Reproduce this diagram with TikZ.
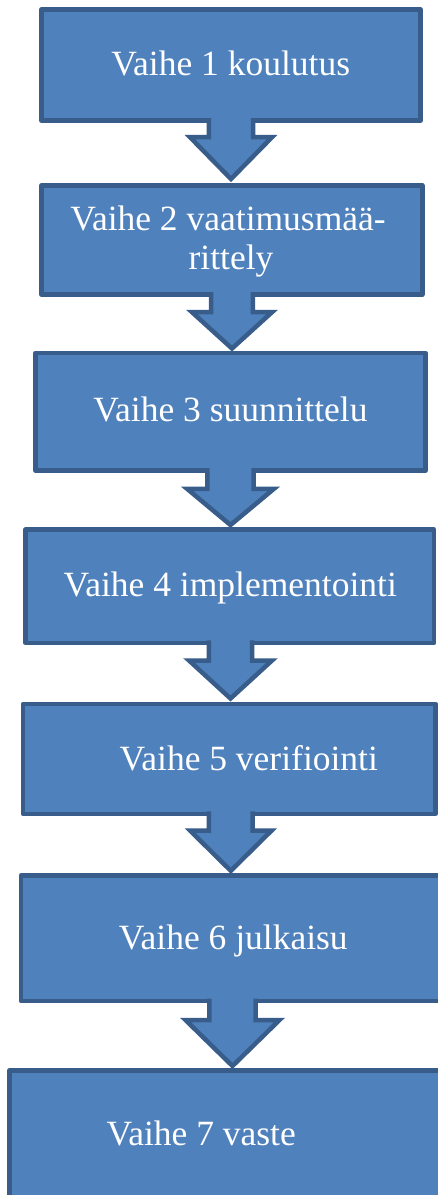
\documentclass[tikz,border=0pt]{standalone}
\usepackage{fontspec}
\setmainfont{Liberation Serif}
\usetikzlibrary{calc}
\definecolor{boxfill}{HTML}{4F81BD}
\definecolor{boxline}{HTML}{385D8A}
\tikzset{
  stage/.style={draw=boxline, fill=boxfill, line width=4.5pt, line join=round, inner sep=0pt, outer sep=0pt},
  stagetext/.style={text=white, font=\fontsize{35.5}{40}\selectfont, anchor=base, inner sep=0pt},
  arrowedge/.style={draw=boxline, line width=4.5pt, line join=miter},
}
% #1 from box, #2 to box, #3 centre x, #4 shaft half width, #5 head half width, #6 head length, #7 gap of tip above next box
\newcommand\stagearrow[7]{%
  \fill[boxfill] let \p1=(#1.south), \p2=(#2.north) in
    (#3pt-#4pt,\y1+2.5pt) -- (#3pt-#4pt,\y2+#7pt+#6pt) -- (#3pt-#5pt,\y2+#7pt+#6pt) -- (#3pt,\y2+#7pt)
    -- (#3pt+#5pt,\y2+#7pt+#6pt) -- (#3pt+#4pt,\y2+#7pt+#6pt) -- (#3pt+#4pt,\y1+2.5pt) -- cycle;
  \draw[arrowedge] let \p1=(#1.south), \p2=(#2.north) in
    (#3pt-#4pt,\y1+2.5pt) -- (#3pt-#4pt,\y2+#7pt+#6pt) -- (#3pt-#5pt,\y2+#7pt+#6pt) -- (#3pt,\y2+#7pt)
    -- (#3pt+#5pt,\y2+#7pt+#6pt) -- (#3pt+#4pt,\y2+#7pt+#6pt) -- (#3pt+#4pt,\y1+2.5pt);
}
\begin{document}
\begin{tikzpicture}[x=1pt,y=1pt]
\useasboundingbox (0,0) rectangle (438,-1195);
\clip (0,0) rectangle (438,-1195);
\fill[white] (0,0) rectangle (438,-1195);
% boxes
\node[stage, minimum width=379pt, minimum height=111pt] (b1) at (231,-65) {};
\node[stage, minimum width=380.8pt, minimum height=109pt] (b2) at (231.9,-240) {};
\node[stage, minimum width=390pt, minimum height=117.5pt] (b3) at (230.5,-411.75) {};
\node[stage, minimum width=408.5pt, minimum height=113.1pt] (b4) at (229.75,-586.25) {};
\node[stage, minimum width=412.7pt, minimum height=109.8pt] (b5) at (229.35,-758.9) {};
\node[stage, minimum width=424pt, minimum height=125.3pt] (b6) at (233,-938.35) {};
\node[stage, minimum width=440.5pt, minimum height=139.5pt] (b7) at (229.75,-1140.25) {};
% arrows
\stagearrow{b1}{b2}{231}{22.2}{41}{41.8}{6.5}
\stagearrow{b2}{b3}{232}{20.8}{40}{36.3}{4.5}
\stagearrow{b3}{b4}{230.5}{23.2}{43.3}{36.1}{4.7}
\stagearrow{b4}{b5}{230.5}{21.6}{41.5}{38}{5.5}
\stagearrow{b5}{b6}{230.8}{21.9}{40.8}{40.3}{4.9}
\stagearrow{b6}{b7}{232.5}{23.2}{46.8}{45.8}{4.5}
% texts
\node[stagetext] (t1) at (230.8,-75) {Vaihe 1 koulutus};
\node[stagetext] (t2a) at (228,-230.7) {Vaihe 2 vaatimusmää-};
\node[stagetext] (t2b) at (231,-269.3) {rittely};
\node[stagetext] (t3) at (230.5,-421.7) {Vaihe 3 suunnittelu};
\node[stagetext] (t4) at (230.2,-596) {Vaihe 4 implementointi};
\node[stagetext] (t5) at (248.8,-770) {Vaihe 5 verifiointi};
\node[stagetext] (t6) at (233.3,-949.3) {Vaihe 6 julkaisu};
\node[stagetext] (t7) at (201.2,-1145.7) {Vaihe 7 vaste};
\end{tikzpicture}
\end{document}
